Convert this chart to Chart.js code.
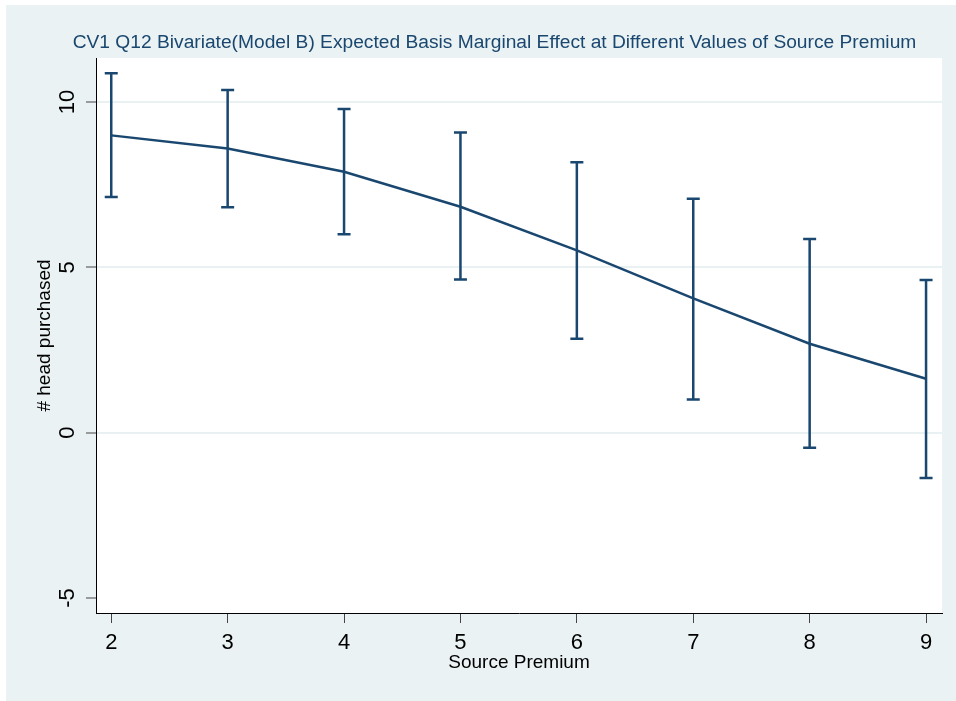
<!DOCTYPE html>
<html>
<head>
<meta charset="utf-8">
<title>Expected Basis Marginal Effect</title>
<script src="https://cdn.jsdelivr.net/npm/chart.js@4/dist/chart.umd.min.js"></script>
<style>
  html, body { margin: 0; padding: 0; background: #ffffff; }
  #wrap { position: absolute; left: 6px; top: 5px; width: 950px; height: 696px; background: #eaf2f3; }
  canvas { display: block; }
</style>
</head>
<body>
<div id="wrap"><canvas id="chart" width="950" height="696"></canvas></div>
<script>
// Source premium values on the x axis
const premium = [2, 3, 4, 5, 6, 7, 8, 9];
// Expected number of head purchased (marginal effect)
const expected = [8.99, 8.59, 7.89, 6.83, 5.51, 4.06, 2.69, 1.63];
// Confidence interval bounds
const lower = [7.13, 6.82, 6.00, 4.63, 2.84, 1.00, -0.46, -1.37];
const upper = [10.87, 10.36, 9.79, 9.08, 8.18, 7.07, 5.86, 4.62];
// Axis tick values
const xTicks = [2, 3, 4, 5, 6, 7, 8, 9];
const yTicks = [-5, 0, 5, 10];

const chartTitle = 'CV1 Q12 Bivariate(Model B) Expected Basis Marginal Effect at Different Values of Source Premium';
const navy = '#1a476f';
const fontFamily = '"Liberation Sans", Arial, sans-serif';

// White plot region behind the marks
const plotBackground = {
  id: 'plotBackground',
  beforeDraw(chart) {
    const { ctx, chartArea: a } = chart;
    ctx.save();
    ctx.fillStyle = '#ffffff';
    ctx.fillRect(a.left, a.top, a.right - a.left, a.bottom - a.top);
    ctx.restore();
  }
};

// Capped vertical error bars for each premium value
const errorBars = {
  id: 'errorBars',
  afterDatasetsDraw(chart) {
    const { ctx, scales: { x, y } } = chart;
    const cap = 6.5;
    ctx.save();
    ctx.strokeStyle = navy;
    ctx.lineWidth = 2.5;
    ctx.lineCap = 'butt';
    premium.forEach((p, i) => {
      const px = x.getPixelForValue(p);
      const yl = y.getPixelForValue(lower[i]);
      const yu = y.getPixelForValue(upper[i]);
      ctx.beginPath();
      ctx.moveTo(px, yu);
      ctx.lineTo(px, yl);
      ctx.moveTo(px - cap, yu);
      ctx.lineTo(px + cap, yu);
      ctx.moveTo(px - cap, yl);
      ctx.lineTo(px + cap, yl);
      ctx.stroke();
    });
    ctx.restore();
  }
};

// Rotated y tick labels and the chart heading
const labels = {
  id: 'labels',
  afterDraw(chart) {
    const { ctx, scales: { y } } = chart;
    ctx.save();
    ctx.fillStyle = '#000000';
    ctx.font = '22px ' + fontFamily;
    ctx.textAlign = 'center';
    ctx.textBaseline = 'middle';
    yTicks.forEach(v => {
      const py = y.getPixelForValue(v);
      ctx.save();
      ctx.translate(y.right - 28, py);
      ctx.rotate(-Math.PI / 2);
      ctx.fillText(String(v), 0, 0);
      ctx.restore();
    });
    ctx.fillStyle = navy;
    ctx.font = '19.2px ' + fontFamily;
    ctx.fillText(chartTitle, 488.5, 38);
    ctx.restore();
  }
};

new Chart(document.getElementById('chart'), {
  type: 'line',
  data: {
    datasets: [{
      label: 'Expected',
      data: premium.map((p, i) => ({ x: p, y: expected[i] })),
      borderColor: navy,
      borderWidth: 2.5,
      pointRadius: 0,
      tension: 0,
      fill: false
    }]
  },
  options: {
    responsive: false,
    animation: false,
    devicePixelRatio: 1,
    layout: { padding: { top: 53, right: 14, bottom: 0, left: 0 } },
    plugins: { legend: { display: false }, title: { display: false }, tooltip: { enabled: false } },
    scales: {
      x: {
        type: 'linear',
        min: 1.869,
        max: 9.137,
        afterBuildTicks(scale) { scale.ticks = xTicks.map(v => ({ value: v })); },
        afterFit(scale) { scale.height = 88; },
        grid: { drawOnChartArea: false, drawTicks: true, tickLength: 10, tickColor: '#444444', tickWidth: 1 },
        border: { display: true, color: '#000000', width: 1 },
        ticks: { color: '#000000', font: { family: fontFamily, size: 22 }, padding: 7, maxRotation: 0, autoSkip: false },
        title: { display: true, text: 'Source Premium', color: '#000000', font: { family: fontFamily, size: 19 }, padding: { top: 0, bottom: 27 } }
      },
      y: {
        type: 'linear',
        min: -5.454,
        max: 11.33,
        afterBuildTicks(scale) { scale.ticks = yTicks.map(v => ({ value: v })); },
        afterFit(scale) { scale.width = 90; },
        grid: {
          drawOnChartArea: true,
          drawTicks: true,
          tickLength: 10,
          tickWidth: 1,
          tickColor: '#444444',
          lineWidth: 2,
          color: ctx => (ctx.tick && ctx.tick.value === -5) ? 'rgba(0,0,0,0)' : '#eaf1f3'
        },
        border: { display: true, color: '#000000', width: 1 },
        ticks: { display: false },
        title: { display: true, text: '# head purchased', color: '#000000', font: { family: fontFamily, size: 19 }, padding: { top: 27, bottom: 0 } }
      }
    }
  },
  plugins: [plotBackground, errorBars, labels]
});
</script>
</body>
</html>
